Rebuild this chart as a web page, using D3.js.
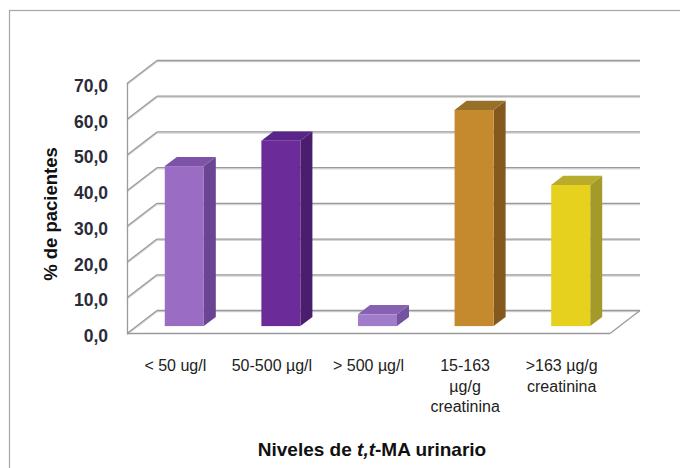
<!DOCTYPE html>
<html>
<head>
<meta charset="utf-8">
<script src="https://cdn.jsdelivr.net/npm/d3@7"></script>
<style>
  html, body { margin: 0; padding: 0; background: #fff; }
  svg { display: block; }
  text { font-family: Arial, "Liberation Sans", sans-serif; }
</style>
</head>
<body>
<svg id="chart" width="680" height="468"></svg>
<script>
// Categories and values (% de pacientes)
const categories = ["< 50 ug/l", "50-500 µg/l", "> 500 µg/l", "15-163 µg/g creatinina", ">163 µg/g creatinina"];
const categoryLines = [["< 50 ug/l"], ["50-500 µg/l"], ["> 500 µg/l"], ["15-163", "µg/g", "creatinina"], [">163 µg/g", "creatinina"]];
const values = [44.8, 51.9, 3.3, 60.5, 39.5];
const yTicks = [0, 10, 20, 30, 40, 50, 60, 70];

// face colours per bar: front, side, top
const frontColors = ["#9b6cc3", "#6b2c9a", "#a07ccb", "#c68a2e", "#e6d11f"];
const sideColors  = ["#6c4592", "#4a1d6d", "#7453a0", "#83591d", "#a39a2a"];
const topColors   = ["#7d53a8", "#5a2489", "#8762b2", "#99702a", "#b9ac2d"];

const svg = d3.select("#chart");

// outer frame
svg.append("rect")
  .attr("x", 9.5).attr("y", 10.5).attr("width", 720).attr("height", 500)
  .attr("fill", "none").attr("stroke", "#aaa3aa").attr("stroke-width", 1.2);

// 3D geometry: front plane + depth offset
const DX = 30, DY = -23;
const y = d3.scaleLinear().domain([0, 70]).range([333, 83]);
const x = d3.scaleBand().domain(categories).range([127, 610])
  .paddingInner(0.596).paddingOuter(0.298);
const off = f => [DX * f, DY * f];

const grid = svg.append("g");
// back-wall gridlines and left-wall diagonals
yTicks.forEach(t => {
  const yf = y(t), yb = yf + DY;
  [["#d6d6d6", 1.2], ["#9a9a9a", 0]].forEach(([c, s]) => {
    grid.append("line")
      .attr("x1", 127 + DX).attr("y1", yb + s + 0.5)
      .attr("x2", 610 + DX).attr("y2", yb + s + 0.5)
      .attr("stroke", c).attr("stroke-width", 1.3);
    grid.append("line")
      .attr("x1", 127).attr("y1", yf + s + 0.5)
      .attr("x2", 127 + DX).attr("y2", yb + s + 0.5)
      .attr("stroke", c).attr("stroke-width", 1.3);
  });
});
// left front edge
grid.append("line").attr("x1", 127.5).attr("y1", y(70)).attr("x2", 127.5).attr("y2", y(0) + 0.5)
  .attr("stroke", "#9a9a9a").attr("stroke-width", 1.3);
// floor front edge and right edge
grid.append("line").attr("x1", 127).attr("y1", y(0) + 0.5).attr("x2", 610).attr("y2", y(0) + 0.5)
  .attr("stroke", "#9a9a9a").attr("stroke-width", 1.3);
grid.append("line").attr("x1", 610).attr("y1", y(0) + 0.5).attr("x2", 610 + DX).attr("y2", y(0) + DY + 0.5)
  .attr("stroke", "#9a9a9a").attr("stroke-width", 1.3);

// bars (placed mid-depth, from 0.3 to 0.7 of the depth)
const f0 = 0.3, f1 = 0.7;
const bars = svg.append("g");
categories.forEach((c, i) => {
  const v = values[i];
  const [ox0, oy0] = off(f0), [ox1, oy1] = off(f1);
  const xl = x(c) + ox0, xr = x(c) + x.bandwidth() + ox0;
  const yt = y(v) + oy0, yb = y(0) + oy0;
  const ddx = ox1 - ox0, ddy = oy1 - oy0;
  const g = bars.append("g");
  // side
  g.append("path")
    .attr("d", `M${xr},${yt}L${xr + ddx},${yt + ddy}L${xr + ddx},${yb + ddy}L${xr},${yb}Z`)
    .attr("fill", sideColors[i]);
  // top
  g.append("path")
    .attr("d", `M${xl},${yt}L${xl + ddx},${yt + ddy}L${xr + ddx},${yt + ddy}L${xr},${yt}Z`)
    .attr("fill", topColors[i]);
  // front
  g.append("rect")
    .attr("x", xl).attr("y", yt).attr("width", xr - xl).attr("height", yb - yt)
    .attr("fill", frontColors[i]);
});

// y tick labels
svg.append("g").selectAll("text").data(yTicks).join("text")
  .attr("x", 108).attr("y", d => y(d) + 9)
  .attr("text-anchor", "end")
  .attr("font-size", 17.5).attr("font-weight", "bold").attr("fill", "#2b2b3a")
  .text(d => d3.format(".1f")(d).replace(".", ","));

// y title
svg.append("text")
  .attr("transform", "translate(57,214) rotate(-90)")
  .attr("text-anchor", "middle")
  .attr("font-size", 18.5).attr("font-weight", "bold").attr("fill", "#111")
  .text("% de pacientes");

// x category labels
const xl = svg.append("g");
categories.forEach((c, i) => {
  const t = xl.append("text")
    .attr("x", x(c) + x.bandwidth() / 2)
    .attr("y", 371)
    .attr("text-anchor", "middle")
    .attr("font-size", 16).attr("fill", "#222");
  categoryLines[i].forEach((ln, k) => {
    t.append("tspan").attr("x", x(c) + x.bandwidth() / 2).attr("dy", k === 0 ? 0 : 20.5).text(ln);
  });
});

// x title
const xt = svg.append("text")
  .attr("x", 372).attr("y", 456)
  .attr("text-anchor", "middle")
  .attr("font-size", 19).attr("font-weight", "bold").attr("fill", "#111");
xt.append("tspan").text("Niveles de ");
xt.append("tspan").attr("font-style", "italic").text("t,t");
xt.append("tspan").text("-MA urinario");
</script>
</body>
</html>
